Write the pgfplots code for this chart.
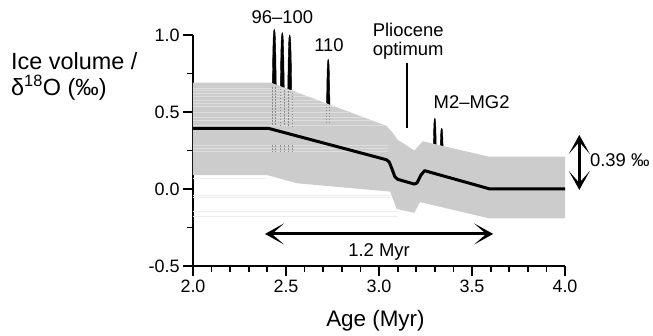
\documentclass[border=0pt]{standalone}
\usepackage{fontspec}
\setmainfont{Liberation Sans}
\usepackage{pgfplots}
\pgfplotsset{compat=1.18}
\usetikzlibrary{arrows.meta}
\newcommand\fa{\fontsize{18.5}{21}\selectfont}
\newcommand\fb{\fontsize{22.5}{26}\selectfont}
\newcommand\fc{\fontsize{23.5}{27}\selectfont}
\definecolor{bandc}{gray}{0.80}
\definecolor{stripec}{gray}{0.87}
\definecolor{faintc}{gray}{0.93}
\definecolor{dashc}{gray}{0.55}
\begin{document}
\begin{tikzpicture}
\useasboundingbox (-193bp,-70bp) rectangle (460bp,266bp);
\begin{axis}[
  x=186bp, y=154bp, at={(0,0)}, anchor=south west,
  xmin=2, xmax=4, ymin=-0.5, ymax=1.0,
  axis lines=left, axis line style={-, line width=1.8bp},
  clip=false,
  xtick={2,2.5,3,3.5,4}, ytick={-0.5,0,0.5,1},
  minor x tick num=4, minor y tick num=1,
  tick align=outside,
  major tick length=10bp, minor tick length=6bp,
  tick style={black, line width=1.8bp},
  tick label style={font=\fontsize{18}{20}\selectfont},
  /pgf/number format/fixed, /pgf/number format/fixed zerofill,
  /pgf/number format/precision=1, /pgf/number format/assume math mode=true,
  dcol/.style={dashc, line width=1bp, dash pattern=on 1.5bp off 1.5bp},
  strp/.style={stripec, line width=0.8bp},
  fnt/.style={faintc, line width=0.8bp},
  spk/.style={fill=black, draw=black, line width=0.4bp},
]
% spikes
\addplot[spk] coordinates {(2.426,0.66)(2.4275,0.773)(2.429,0.886)(2.431,0.980)(2.433,1.018)(2.4355,1.033)(2.437,1.037)(2.4385,1.033)(2.441,1.018)(2.443,0.980)(2.445,0.886)(2.4465,0.773)(2.448,0.66)} --cycle;
\addplot[spk] coordinates {(2.469,0.645)(2.4705,0.756)(2.472,0.867)(2.474,0.9595)(2.476,0.9965)(2.4785,1.0113)(2.48,1.015)(2.4815,1.0113)(2.484,0.9965)(2.486,0.9595)(2.488,0.867)(2.4895,0.756)(2.491,0.645)} --cycle;
\addplot[spk] coordinates {(2.509,0.63)(2.5105,0.741)(2.512,0.852)(2.514,0.9445)(2.516,0.9815)(2.5185,0.9963)(2.52,1.0)(2.5215,0.9963)(2.524,0.9815)(2.526,0.9445)(2.528,0.852)(2.5295,0.741)(2.531,0.63)} --cycle;
\addplot[spk] coordinates {(2.7176,0.53)(2.7189,0.6236)(2.7202,0.7172)(2.7219,0.7952)(2.7236,0.8264)(2.7257,0.8389)(2.727,0.842)(2.7283,0.8389)(2.7304,0.8264)(2.7321,0.7952)(2.7338,0.7172)(2.7351,0.6236)(2.7364,0.53)} --cycle;
\addplot[spk] coordinates {(3.2917,0.27)(3.2929,0.3267)(3.294,0.3834)(3.2955,0.4307)(3.297,0.4496)(3.2989,0.4571)(3.30,0.459)(3.3011,0.4571)(3.303,0.4496)(3.3045,0.4307)(3.306,0.3834)(3.3071,0.3267)(3.3083,0.27)} --cycle;
\addplot[spk] coordinates {(3.3287,0.26)(3.3299,0.3002)(3.331,0.3404)(3.3325,0.3739)(3.334,0.3873)(3.3359,0.3927)(3.337,0.394)(3.3381,0.3927)(3.34,0.3873)(3.3415,0.3739)(3.343,0.3404)(3.3441,0.3002)(3.3453,0.26)} --cycle;
% faint lines below band
\addplot[fnt] coordinates {(2.0,0.069)(2.40,0.069)};
\addplot[fnt] coordinates {(2.0,-0.04)(3.06,-0.04)};
\addplot[fnt] coordinates {(2.0,-0.052)(3.06,-0.052)};
\addplot[fnt] coordinates {(2.0,-0.147)(3.10,-0.147)};
\addplot[fnt] coordinates {(2.0,-0.175)(3.10,-0.175)};
% band
\addplot[fill=bandc, draw=none] coordinates {(2.0,0.69)(2.42,0.69)(3.04,0.41)(3.07,0.37)(3.10,0.32)(3.19,0.25)(3.235,0.31)(3.59,0.21)(4.0,0.21)(4.0,-0.19)(3.59,-0.19)(3.22,-0.085)(3.19,-0.155)(3.095,-0.13)(3.06,-0.017)(2.56,0.037)(2.40,0.09)(2.0,0.09)} --cycle;
% stripes
\addplot[strp] coordinates {(2.0,0.655)(2.497,0.655)};
\addplot[strp] coordinates {(2.0,0.64)(2.53,0.64)};
\addplot[strp] coordinates {(2.0,0.62)(2.575,0.62)};
\addplot[strp] coordinates {(2.0,0.60)(2.619,0.60)};
\addplot[strp] coordinates {(2.0,0.575)(2.674,0.575)};
\addplot[strp] coordinates {(2.0,0.555)(2.718,0.555)};
\addplot[strp] coordinates {(2.0,0.535)(2.762,0.535)};
\addplot[strp] coordinates {(2.0,0.50)(2.839,0.50)};
\addplot[strp] coordinates {(2.0,0.465)(2.917,0.465)};
\addplot[strp] coordinates {(2.0,0.445)(2.961,0.445)};
\addplot[strp] coordinates {(2.0,0.415)(3.027,0.415)};
\addplot[strp] coordinates {(2.0,0.285)(3.05,0.285)};
\addplot[strp] coordinates {(2.0,0.265)(3.05,0.265)};
\addplot[strp] coordinates {(2.0,0.245)(3.05,0.245)};
% dashed columns
\addplot[dcol] coordinates {(2.426,0.66)(2.426,0.41)};
\addplot[dcol] coordinates {(2.444,0.66)(2.444,0.41)};
\addplot[dcol] coordinates {(2.468,0.65)(2.468,0.41)};
\addplot[dcol] coordinates {(2.491,0.64)(2.491,0.41)};
\addplot[dcol] coordinates {(2.512,0.635)(2.512,0.41)};
\addplot[dcol] coordinates {(2.534,0.625)(2.534,0.41)};
\addplot[dcol] coordinates {(2.426,0.285)(2.426,0.24)};
\addplot[dcol] coordinates {(2.444,0.285)(2.444,0.24)};
\addplot[dcol] coordinates {(2.468,0.285)(2.468,0.24)};
\addplot[dcol] coordinates {(2.491,0.285)(2.491,0.24)};
\addplot[dcol] coordinates {(2.512,0.285)(2.512,0.24)};
\addplot[dcol] coordinates {(2.534,0.285)(2.534,0.24)};
\addplot[dcol] coordinates {(2.718,0.535)(2.718,0.435)};
\addplot[dcol] coordinates {(2.734,0.535)(2.734,0.435)};
% main line
\addplot[black, line width=3bp, line join=round] coordinates {(2.0,0.394)(2.405,0.394)(3.04,0.19)(3.055,0.175)(3.07,0.13)(3.085,0.08)(3.10,0.063)(3.19,0.032)(3.205,0.04)(3.225,0.09)(3.245,0.119)(3.597,0.0)(4.0,0.0)};
% Pliocene optimum marker
\addplot[black, line width=1.7bp] coordinates {(3.149,0.394)(3.149,0.816)};
% arrows
\draw[{Stealth[length=19bp,width=21bp,inset=12bp]}-{Stealth[length=19bp,width=21bp,inset=12bp]}, line width=3bp] (2.387,-0.292) -- (3.614,-0.292);
\draw[{Stealth[length=19bp,width=21bp,inset=12bp]}-{Stealth[length=19bp,width=21bp,inset=12bp]}, line width=3bp] (4.077,0.351) -- (4.077,-0.006);
% labels
\node[inner sep=0, font=\fa] at (2.48,1.119) {96–100};
\node[inner sep=0, font=\fa] at (2.731,0.935) {110};
\node[inner sep=0, font=\fa, anchor=base] at (3.157,0.989) {Pliocene};
\node[inner sep=0, font=\fa, anchor=base] at (3.157,0.864) {optimum};
\node[inner sep=0, font=\fa] at (3.498,0.567) {M2–MG2};
\node[inner sep=0, font=\fa, anchor=west] at (4.134,0.188) {0.39 ‰};
\node[inner sep=0, font=\fa, anchor=base] at (3.0,-0.44) {1.2 Myr};
\node[inner sep=0, font=\fb, anchor=base] at (2.981,-0.8896) {Age (Myr)};
\node[inner sep=0, font=\fc, anchor=base west] at (1.0215,0.779) {Ice volume /};
\node[inner sep=0, font=\fc, anchor=base west] at (1.0215,0.610) {δ\textsuperscript{18}O (‰)};
\end{axis}
\end{tikzpicture}
\end{document}
